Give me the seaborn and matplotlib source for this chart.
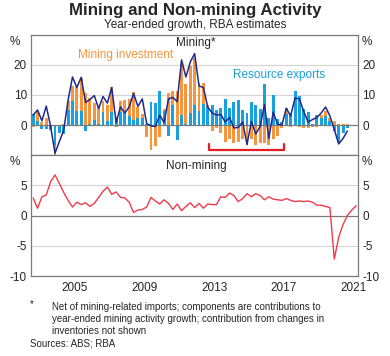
import numpy as np
import pandas as pd
import matplotlib
matplotlib.use('Agg')
import matplotlib.pyplot as plt
import seaborn as sns

# Quarterly year-ended growth, ppt contributions (top) and % (bottom), 2003Q1 onwards
exports = [3.7, 1.5, -1.4, -1.2, -1.5, -6.7, -2.8, -3.0, 5.0, 8.0,
           4.7, 4.5, -2.0, 0.3, 1.8, 0.3, 4.3, 1.5, 4.2, 2.7,
           4.3, 4.5, 3.0, 1.8, 2.5, 2.5, 0.4, 7.5, 7.3, 11.3,
           4.5, -3.5, 6.5, -5.0, 3.3, 0.5, 4.0, 6.7, 4.5, 7.0,
           6.0, 6.5, 5.0, 5.5, 8.8, 5.5, 7.8, 8.2, 5.0, 4.0,
           7.6, 6.5, 5.3, 13.7, 2.2, 10.0, 2.0, 1.0, 3.5, 4.0,
           11.3, 9.5, 5.2, 4.4, 0.5, 3.2, 2.5, 3.0, 1.5, -2.0,
           -5.8, -2.5, -1.0]
investment = [-0.5, 3.0, 1.0, 2.5, -0.3, -4.0, 0.0, 0.5, 3.0, 5.0,
              8.0, 11.0, 10.5, 8.8, 5.5, 5.5, 3.8, 5.0, 8.3, -0.5,
              3.7, 3.8, 5.5, 9.2, 3.5, 1.3, -4.0, -8.3, -7.0, -4.0,
              0.8, 10.5, 4.7, 11.3, 17.0, 13.0, 15.5, 15.5, 9.5, 7.0,
              0.5, -2.0, -1.0, -2.5, -5.5, -4.6, -6.0, -5.5, -4.5, -6.5,
              -4.6, -6.5, -6.0, -6.0, -6.5, -4.5, -3.5, -1.0, 2.3, -0.5,
              -0.3, -0.5, -1.0, -1.0, -0.8, -0.6, 0.9, 1.5, 1.0, 1.5,
              0.5, 0.3, 0.2]
mining = [3.3, 5.0, 1.4, 6.3, -0.5, -9.4, -5.5, -1.7, 8.3, 16.0,
          12.5, 15.9, 7.5, 8.5, 9.8, 5.5, 9.5, 7.3, 12.5, 0.8,
          6.0, 4.0, 6.0, 10.5, 6.2, 8.7, 0.5, -0.3, -0.5, 3.3,
          0.8, 8.7, 9.2, 7.8, 21.7, 16.0, 21.0, 23.8, 13.0, 12.5,
          6.0, 4.0, 3.3, 3.5, 1.0, 2.5, -1.0, -0.8, 1.0, -6.5,
          1.2, -3.0, -0.5, 6.8, -4.5, 4.3, 0.3, 0.0, 5.6, 3.0,
          9.0, 8.7, 4.5, 1.0, 1.8, 2.5, 4.0, 6.0, 3.0, -1.5,
          -6.3, -4.5, -2.0]
non_mining = [2.9, 1.2, 3.1, 3.4, 5.6, 6.7, 5.3, 3.8, 2.5, 1.4,
              2.2, 1.8, 2.1, 1.5, 2.0, 3.0, 4.0, 4.7, 3.5, 3.9,
              3.0, 2.9, 2.2, 0.5, 0.9, 1.0, 1.4, 3.0, 2.4, 1.9,
              2.6, 2.0, 1.0, 1.9, 0.8, 1.5, 2.1, 1.3, 2.0, 1.2,
              1.9, 1.8, 1.8, 3.1, 3.0, 3.7, 3.3, 2.3, 2.8, 3.6,
              3.1, 3.6, 3.3, 2.6, 3.1, 2.7, 2.6, 2.5, 2.8, 2.5,
              2.3, 2.4, 2.3, 2.4, 2.2, 1.7, 1.7, 1.5, 1.3, -7.2,
              -3.6, -1.5, 0.0, 0.9, 1.6]
year_labels = ['2005', '2009', '2013', '2017', '2021']

BLUE = '#18a1de'
ORANGE = '#f7953f'
NAVY = '#1f2a8f'
RED = '#ef3b4a'
GRID = '#d4d4d4'
FRAME = '#7a7a7a'


def quarter_x(n):
    q = pd.period_range('2003Q1', periods=n, freq='Q')
    return np.asarray(q.year + (q.quarter - 0.5) / 4, dtype=float)


x_top = quarter_x(len(mining))
x_bot = quarter_x(len(non_mining))

exp = np.array(exports)
inv = np.array(investment)
inv_bottom = np.where(np.sign(exp) == np.sign(inv), exp, 0.0)

sns.set_style('white')
plt.rcParams['font.family'] = ['Liberation Sans', 'DejaVu Sans']
plt.rcParams['axes.unicode_minus'] = False

fig = plt.figure(figsize=(3.9, 3.56), dpi=100)
ax1 = fig.add_axes([0.0795, 0.5646, 0.8392, 0.3371])
ax2 = fig.add_axes([0.0795, 0.2247, 0.8392, 0.3399])

# top panel
for v in (10, 20):
    ax1.axhline(v, color=GRID, lw=0.8, zorder=0)
ax1.bar(x_top, exp, width=0.17, color=BLUE, lw=0, zorder=2)
ax1.bar(x_top, inv, bottom=inv_bottom, width=0.17, color=ORANGE, lw=0, zorder=2)
ax1.axhline(0, color=FRAME, lw=0.9, zorder=3)
sns.lineplot(x=x_top, y=mining, ax=ax1, color=NAVY, lw=1.1, zorder=4)
ax1.plot([2013.19, 2013.19, 2017.49, 2017.49], [-6.4, -8.3, -8.3, -6.4],
         color='#e31e24', lw=1.6, zorder=5, clip_on=False)
ax1.set_ylim(-10, 30)
ax1.set_yticks([0, 10, 20])

# bottom panel
for v in (5, -5):
    ax2.axhline(v, color=GRID, lw=0.8, zorder=0)
ax2.axhline(0, color=FRAME, lw=0.9, zorder=1)
sns.lineplot(x=x_bot, y=non_mining, ax=ax2, color=RED, lw=1.0, zorder=3)
ax2.set_ylim(-10, 10)
ax2.set_yticks([-10, -5, 0, 5])

for ax in (ax1, ax2):
    ax.set_xlim(2003.0, 2021.75)
    ax.set_xlabel('')
    ax.set_ylabel('')
    for s in ax.spines.values():
        s.set_color(FRAME)
        s.set_linewidth(0.9)
    ax.tick_params(axis='y', which='both', length=0, labelsize=8.5,
                   labelleft=True, labelright=True, pad=3)
    ax.text(-0.035, 0.94, '%', transform=ax.transAxes, ha='right', va='center', fontsize=8.5)
    ax.text(1.01, 0.94, '%', transform=ax.transAxes, ha='left', va='center', fontsize=8.5)

ax1.set_xticks([])
ax2.set_xticks(np.arange(2004, 2022))
ax2.set_xticks([int(y) + 0.5 for y in year_labels], minor=True)
ax2.set_xticklabels(year_labels, minor=True)
ax2.tick_params(axis='x', which='major', direction='in', length=3.5,
                color=FRAME, labelbottom=False)
ax2.tick_params(axis='x', which='minor', length=0, labelsize=8.5, pad=4)

ax1.text(0.504, 0.93, 'Mining*', transform=ax1.transAxes, ha='center', va='center', fontsize=8.5)
ax1.text(0.29, 0.833, 'Mining investment', transform=ax1.transAxes, ha='center',
         va='center', fontsize=8.5, color=ORANGE)
ax1.text(0.758, 0.667, 'Resource exports', transform=ax1.transAxes, ha='center',
         va='center', fontsize=8.5, color=BLUE)
ax2.text(0.504, 0.912, 'Non-mining', transform=ax2.transAxes, ha='center', va='center', fontsize=8.5)

fig.text(0.5, 1 - 11 / 356, 'Mining and Non-mining Activity', ha='center', va='center',
         fontsize=12.2, fontweight='bold')
fig.text(0.5, 1 - 25 / 356, 'Year-ended growth, RBA estimates', ha='center', va='center',
         fontsize=8.5)

fig.text(30 / 390, 1 - 304 / 356, '*', ha='left', va='center', fontsize=7)
notes = ['Net of mining-related imports; components are contributions to',
         'year-ended mining activity growth; contribution from changes in',
         'inventories not shown']
for k, line in enumerate(notes):
    fig.text(52 / 390, 1 - (307 + 12 * k) / 356, line, ha='left', va='center', fontsize=7)
fig.text(30 / 390, 1 - 344 / 356, 'Sources: ABS; RBA', ha='left', va='center', fontsize=7)

fig.savefig('out.png', dpi=100)
